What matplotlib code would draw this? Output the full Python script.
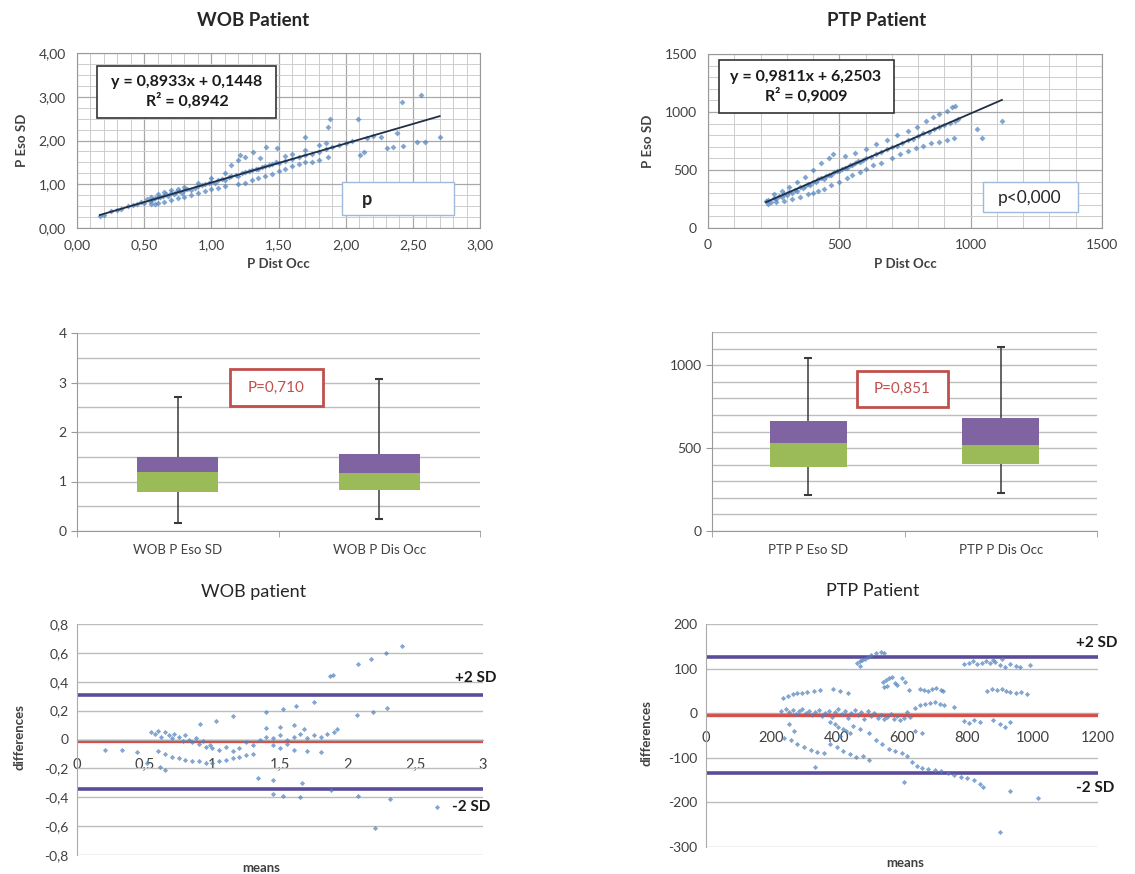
import matplotlib
matplotlib.use('Agg')
import matplotlib.pyplot as plt
from matplotlib.patches import Rectangle
from matplotlib.ticker import MultipleLocator

plt.rcParams['font.family'] = ['Lato', 'DejaVu Sans']

# ---------------- data ----------------
# WOB scatter (P Dist Occ vs P Eso SD)
wob_sc_x = [0.17, 0.20, 0.25, 0.30, 0.33, 0.38, 0.42, 0.45, 0.48, 0.50, 0.52, 0.54, 0.55, 0.56, 0.58, 0.60,
            0.62, 0.64, 0.66, 0.68, 0.70, 0.72, 0.74, 0.76, 0.78, 0.80, 0.82, 0.85, 0.88, 0.90, 0.93, 0.95,
            0.98, 1.00, 1.03, 1.05, 1.08, 1.10, 1.13, 1.15, 1.18, 1.20, 1.23, 1.25, 1.28, 1.30, 1.33, 1.35,
            1.38, 1.40, 1.43, 1.45, 1.48, 1.50, 1.55, 1.60, 1.65, 1.70, 1.75, 1.80, 1.85, 1.90, 1.95, 2.00, 2.05,
            0.55, 0.58, 0.60, 0.65, 0.70, 0.75, 0.80, 0.85, 0.90, 0.95, 1.00, 1.05, 1.10, 1.20, 1.25, 1.30,
            1.35, 1.40, 1.45, 1.50, 1.55, 1.60, 1.65, 1.70, 1.75, 1.80, 1.87,
            0.60, 0.65, 0.70, 0.75, 0.80, 0.90, 1.00, 1.10, 1.15, 1.20, 1.21, 1.25, 1.31, 1.36, 1.41, 1.49,
            1.55, 1.60, 1.70, 1.80, 1.85,
            1.70, 1.87, 1.88, 2.09, 2.11, 2.14, 2.16, 2.26, 2.31, 2.35, 2.38, 2.43, 2.42, 2.53, 2.56, 2.59,
            2.70, 2.20]
wob_sc_y = [0.28, 0.30, 0.38, 0.42, 0.44, 0.50, 0.52, 0.56, 0.60, 0.58, 0.66, 0.62, 0.70, 0.64, 0.68, 0.72,
            0.70, 0.74, 0.78, 0.74, 0.80, 0.78, 0.82, 0.84, 0.80, 0.86, 0.90, 0.88, 0.92, 0.96, 0.98, 1.00,
            1.02, 1.06, 1.04, 1.10, 1.12, 1.10, 1.16, 1.18, 1.22, 1.20, 1.26, 1.28, 1.30, 1.32, 1.36, 1.34,
            1.40, 1.42, 1.44, 1.46, 1.50, 1.48, 1.54, 1.58, 1.62, 1.66, 1.70, 1.74, 1.80, 1.86, 1.90, 1.94, 1.98,
            0.55, 0.56, 0.58, 0.60, 0.64, 0.68, 0.72, 0.76, 0.80, 0.85, 0.90, 0.92, 0.96, 1.00, 1.04, 1.10,
            1.14, 1.20, 1.24, 1.30, 1.36, 1.42, 1.46, 1.50, 1.52, 1.55, 1.62,
            0.78, 0.82, 0.86, 0.90, 0.94, 1.04, 1.14, 1.25, 1.45, 1.55, 1.67, 1.62, 1.74, 1.60, 1.85, 1.83,
            1.65, 1.70, 1.78, 1.90, 1.95,
            2.08, 2.31, 2.50, 2.50, 1.67, 1.74, 2.06, 2.08, 1.83, 1.85, 2.17, 1.87, 2.88, 1.97, 3.04, 1.97,
            2.08, 2.10]
wob_slope, wob_intercept = 0.8933, 0.1448
wob_sc_xticks = [0.0, 0.5, 1.0, 1.5, 2.0, 2.5, 3.0]
wob_sc_yticks = [0.0, 1.0, 2.0, 3.0, 4.0]

# PTP scatter
ptp_sc_x = [220, 230, 240, 250, 260, 270, 280, 290, 300, 310, 320, 330, 340, 350, 360, 370, 380, 390, 400,
            410, 420, 430, 440, 450, 460, 470, 480, 490, 500, 510, 520, 530, 540, 550, 560, 570, 580, 590,
            600, 620, 640, 660, 680, 700, 720, 740, 760, 780, 800, 820, 840, 860, 880, 900, 920, 940, 950,
            230, 260, 290, 320, 350, 380, 400, 420, 440, 470, 500, 530, 550, 580, 600, 630, 660, 700, 730,
            760, 790, 820, 850, 880, 910, 935,
            250, 280, 310, 340, 370, 400, 430, 460, 476, 520, 560, 600, 640, 680, 720, 760, 796, 830, 857,
            880, 910, 940, 930,
            1024, 1043, 1119]
ptp_sc_y = [230, 240, 225, 260, 250, 275, 270, 290, 285, 310, 300, 330, 320, 350, 345, 365, 380, 370, 400,
            395, 420, 430, 425, 450, 460, 455, 480, 495, 490, 510, 520, 515, 545, 540, 560, 575, 570, 590,
            600, 615, 640, 655, 680, 700, 710, 735, 760, 770, 790, 820, 830, 850, 870, 890, 905, 925, 940,
            210, 220, 230, 250, 270, 290, 300, 320, 340, 370, 400, 430, 460, 480, 510, 540, 560, 600, 640,
            660, 690, 710, 730, 745, 760, 775,
            290, 320, 350, 400, 440, 500, 560, 600, 638, 620, 650, 680, 720, 760, 800, 840, 871, 920, 957,
            980, 1010, 1052, 1040,
            853, 776, 922]
ptp_slope, ptp_intercept = 0.9811, 6.2503
ptp_sc_ticks = [0, 500, 1000, 1500]

# Box plots (min, q1, median, q3, max)
wob_box_labels = ['WOB P Eso SD', 'WOB P Dis Occ']
wob_box_min = [0.16, 0.24]
wob_box_q1 = [0.79, 0.83]
wob_box_med = [1.19, 1.17]
wob_box_q3 = [1.50, 1.55]
wob_box_max = [2.71, 3.07]
wob_box_yticks = [0, 1, 2, 3, 4]

ptp_box_labels = ['PTP P Eso SD', 'PTP P Dis Occ']
ptp_box_min = [217, 229]
ptp_box_q1 = [386, 404]
ptp_box_med = [530, 518]
ptp_box_q3 = [663, 681]
ptp_box_max = [1042, 1108]
ptp_box_yticks = [0, 500, 1000]

# Bland-Altman WOB
wob_ba_x = [0.55, 0.58, 0.60, 0.62, 0.65, 0.68, 0.70, 0.72, 0.75, 0.78, 0.80, 0.83, 0.85, 0.88, 0.90, 0.93,
            0.95, 0.98, 1.00, 1.05, 1.10, 1.15, 1.20,
            0.60, 0.65, 0.70, 0.75, 0.80, 0.85, 0.90, 0.95, 1.00, 1.05, 1.10, 1.15, 1.20, 1.25, 1.30,
            1.35, 1.40, 1.45, 1.50, 1.55, 1.60, 1.65, 1.70, 1.75, 1.80, 1.85, 1.90, 1.92, 1.45, 1.50, 1.55,
            1.60, 1.70, 1.80, 1.40, 1.50, 1.60, 1.68, 1.30, 1.25,
            2.40, 2.28, 2.17, 2.08, 1.89, 1.87, 1.75, 1.62, 1.52, 1.40, 1.15, 1.03, 0.91, 2.29, 2.19, 2.07,
            2.20, 2.66, 2.31, 2.08, 1.65, 1.52, 1.45, 1.34, 1.45, 1.66, 1.88,
            0.21, 0.33, 0.44, 0.52, 0.65, 0.61]
wob_ba_y = [0.05, 0.04, 0.06, 0.02, 0.05, 0.03, 0.01, 0.04, 0.02, -0.01, 0.03, 0.00, -0.02, 0.01, -0.03, -0.01,
            -0.05, -0.04, -0.06, -0.07, -0.05, -0.08, -0.06,
            -0.08, -0.10, -0.12, -0.13, -0.14, -0.15, -0.15, -0.16, -0.16, -0.15, -0.14, -0.13, -0.12, -0.11, -0.10,
            0.00, 0.02, 0.01, 0.03, 0.00, 0.02, 0.04, 0.01, 0.03, 0.02, 0.04, 0.05, 0.07, -0.04, -0.06, -0.03,
            -0.07, -0.08, -0.09, 0.08, 0.09, 0.10, 0.07, -0.04, -0.02,
            0.65, 0.60, 0.56, 0.52, 0.45, 0.44, 0.26, 0.23, 0.21, 0.19, 0.16, 0.13, 0.11, 0.22, 0.19, 0.17,
            -0.61, -0.47, -0.41, -0.39, -0.40, -0.39, -0.38, -0.27, -0.28, -0.30, -0.35,
            -0.07, -0.07, -0.09, -0.16, -0.21, -0.19]
wob_ba_mean, wob_ba_plus2sd, wob_ba_minus2sd = -0.01, 0.31, -0.34
wob_ba_xticks = [0, 0.5, 1, 1.5, 2, 2.5, 3]
wob_ba_xlabels = ['0', '0,5', '1', '1,5', '2', '2,5', '3']
wob_ba_yticks = [-0.8, -0.6, -0.4, -0.2, 0, 0.2, 0.4, 0.6, 0.8]
wob_ba_ylabels = ['-0,8', '-0,6', '-0,4', '-0,2', '0', '0,2', '0,4', '0,6', '0,8']

# Bland-Altman PTP
ptp_ba_x = [462, 470, 478, 486, 495, 505, 520, 535, 545, 470,
            790, 805, 818, 830, 845, 858, 870, 885, 900, 915, 930, 948, 960, 992, 880, 905,
            860, 875, 890, 905, 918, 932, 950, 965, 983,
            655, 668, 680, 692, 705, 718, 726, 620,
            542, 550, 560, 570, 585, 578, 545, 555, 600, 610,
            236, 250, 265, 280, 295, 310, 330, 350, 389, 410, 435,
            230, 245, 255, 265, 275, 285, 295, 305, 315, 325, 335, 345, 355, 365, 375, 385, 395, 405, 415, 425,
            435, 445, 455, 465, 475, 485, 495, 505, 515, 525, 535, 545, 555, 565, 575, 585, 595, 605, 615, 625,
            640, 655, 670, 685, 700, 715, 730, 760, 790, 805, 820, 840, 880, 900, 915, 930,
            380, 395, 405, 420, 430, 440, 450, 410, 470, 500, 520, 540, 560, 580, 600, 615, 640, 660, 255, 270,
            240, 260, 280, 300, 320, 340, 360, 380, 400, 420, 440, 460, 480, 500,
            630, 645, 660, 680, 700, 720, 740, 760, 780, 800, 820, 840, 848,
            900, 931, 1016, 606, 333]
ptp_ba_y = [112, 118, 120, 122, 126, 130, 136, 138, 135, 105,
            110, 112, 117, 110, 113, 118, 112, 114, 108, 104, 110, 106, 104, 107, 120, 122,
            50, 55, 52, 54, 50, 48, 45, 47, 44,
            55, 52, 50, 54, 56, 52, 50, 52,
            70, 75, 78, 82, 64, 68, 58, 60, 80, 70,
            35, 38, 42, 45, 46, 48, 50, 52, 55, 50, 45,
            5, 10, 2, 8, -2, 4, 10, 0, 6, -4, 2, 8, -6, 0, 4, -8, 2, 10, -2, 6,
            -10, 0, 8, -4, 2, -12, 4, -6, 0, -10, -4, -14, -8, -2, -12, -6, -16, -10, 2, -8,
            12, 18, 20, 22, 25, 20, 18, 15, -18, -22, -15, -20, -15, -25, -30, -20,
            -20, -25, -30, -35, -40, -45, -28, -50, -35, -45, -60, -70, -80, -85, -90, -95, -40, -45, -25, -40,
            -55, -60, -70, -75, -82, -88, -90, -70, -75, -85, -92, -98, -95, -105,
            -110, -118, -122, -125, -128, -130, -135, -138, -142, -145, -150, -158, -165,
            -266, -174, -190, -154, -120]
ptp_ba_mean, ptp_ba_plus2sd, ptp_ba_minus2sd = -5, 125, -133
ptp_ba_xticks = [0, 200, 400, 600, 800, 1000, 1200]
ptp_ba_yticks = [-300, -200, -100, 0, 100, 200]

# ---------------- styling ----------------
W, H = 1135, 874
fig = plt.figure(figsize=(W / 100, H / 100), dpi=100)

BLUE = '#4F81BD'
PURPLE = '#8064A2'
GREEN = '#9BBB59'
RED = '#C0504D'
GRID = '#cdcdcd'
TXT = '#404040'


def ax_px(l, t, r, b):
    return fig.add_axes([l / W, 1 - b / H, (r - l) / W, (b - t) / H])


def fig_rect(l, t, r, b, ec, lw, fc='white'):
    rect = Rectangle((l / W, 1 - b / H), (r - l) / W, (b - t) / H, transform=fig.transFigure,
                     facecolor=fc, edgecolor=ec, linewidth=lw, zorder=5)
    fig.add_artist(rect)


def fig_text(x, y, s, **kw):
    kw.setdefault('ha', 'center')
    kw.setdefault('va', 'center')
    fig.text(x / W, 1 - y / H, s, zorder=6, **kw)


def comma(v, nd):
    return f"{v:.{nd}f}".replace('.', ',')


def style_spines(ax, color='#999999'):
    for s in ax.spines.values():
        s.set_color(color)
        s.set_linewidth(0.8)


def scatter_panel(ax, x, y, slope, intercept, xticks, xlabels, yticks, ylabels, xminor, yminor):
    ax.set_xticks(xticks)
    ax.set_xticklabels(xlabels)
    ax.set_yticks(yticks)
    ax.set_yticklabels(ylabels)
    ax.set_xlim(xticks[0], xticks[-1])
    ax.set_ylim(yticks[0], yticks[-1])
    ax.xaxis.set_minor_locator(MultipleLocator(xminor))
    ax.yaxis.set_minor_locator(MultipleLocator(yminor))
    ax.grid(which='major', color='#a8a8a8', lw=0.9)
    ax.grid(which='minor', color=GRID, lw=0.7)
    ax.set_axisbelow(True)
    ax.tick_params(which='both', length=0, labelsize=10, labelcolor=TXT, pad=8)
    style_spines(ax)
    ax.scatter(x, y, s=9, c=BLUE, marker='D', linewidths=0, alpha=0.7, zorder=3)
    tx = [min(x), max(x)]
    ax.plot(tx, [slope * v + intercept for v in tx], color='#1f2f45', lw=1.3, zorder=4)
    ax.set_xlabel('P Dist Occ', fontsize=9.5, fontweight='bold', color=TXT, labelpad=5)
    ax.set_ylabel('P Eso SD', fontsize=9.5, fontweight='bold', color=TXT, labelpad=8)


# ---- Panel 1: WOB scatter ----
ax1 = ax_px(77, 53, 480, 228)
scatter_panel(ax1, wob_sc_x, wob_sc_y, wob_slope, wob_intercept,
              wob_sc_xticks, [comma(v, 2) for v in wob_sc_xticks],
              wob_sc_yticks, [comma(v, 2) for v in wob_sc_yticks], 0.1, 0.25)
fig_text(253, 20, 'WOB Patient', fontsize=13.5, fontweight='bold', color='#262626')
fig_rect(97, 66, 276, 118, '#333333', 1.2)
fig_text(187, 92, f'y = {comma(wob_slope, 4)}x + {comma(wob_intercept, 4)}\nR² = 0,8942',
         fontsize=11.5, fontweight='bold', color='#1a1a1a', linespacing=1.25)
fig_rect(342, 182, 454, 215, '#9DB9DC', 1.0)
fig_text(367, 200, 'p', fontsize=13, fontweight='bold', color='#262626')

# ---- Panel 2: PTP scatter ----
ax2 = ax_px(708, 54, 1102, 228)
scatter_panel(ax2, ptp_sc_x, ptp_sc_y, ptp_slope, ptp_intercept,
              ptp_sc_ticks, [str(v) for v in ptp_sc_ticks],
              ptp_sc_ticks, [str(v) for v in ptp_sc_ticks], 100, 100)
fig_text(877, 20, 'PTP Patient', fontsize=13.5, fontweight='bold', color='#262626')
fig_rect(719, 60, 894, 113, '#333333', 1.2)
fig_text(806, 87, f'y = {comma(ptp_slope, 4)}x + {comma(ptp_intercept, 4)}\nR² = 0,9009',
         fontsize=11.5, fontweight='bold', color='#1a1a1a', linespacing=1.25)
fig_rect(983, 182, 1078, 212, '#9DB9DC', 1.0)
fig_text(1030, 198, 'p<0,000', fontsize=12.5, color='#262626')


# ---- Box panels ----
def box_panel(ax, labels, mn, q1, med, q3, mx, yticks, ymax, ystep):
    pos = [0.5, 1.5]
    ax.set_yticks(yticks)
    ax.set_xlim(0, 2)
    ax.set_ylim(0, ymax)
    ax.yaxis.set_minor_locator(MultipleLocator(ystep))
    ax.grid(axis='y', which='both', color='#bdbdbd', lw=1.0)
    ax.set_axisbelow(True)
    for s in ['top', 'right']:
        ax.spines[s].set_visible(False)
    for s in ['left', 'bottom']:
        ax.spines[s].set_color('#999999')
    ax.set_xticks(pos)
    ax.set_xticklabels(labels)
    ax.set_xticks([0, 1, 2], minor=True)
    ax.tick_params(axis='x', which='major', length=0, labelsize=9.5, labelcolor=TXT, pad=9)
    ax.tick_params(axis='x', which='minor', length=4, color='#999999')
    ax.tick_params(axis='y', which='major', length=4, color='#999999', labelsize=10, labelcolor=TXT)
    ax.tick_params(axis='y', which='minor', length=0)
    ax.vlines(pos, mn, mx, color='#3a3a3a', lw=1.1, zorder=2)
    ax.hlines(mn, [p - 0.02 for p in pos], [p + 0.02 for p in pos], color='#3a3a3a', lw=1.5, zorder=2)
    ax.hlines(mx, [p - 0.02 for p in pos], [p + 0.02 for p in pos], color='#3a3a3a', lw=1.5, zorder=2)
    ax.bar(pos, [m - a for m, a in zip(med, q1)], bottom=q1, width=0.4, color=GREEN, zorder=3)
    ax.bar(pos, [b - m for b, m in zip(q3, med)], bottom=med, width=0.4, color=PURPLE, zorder=3)


ax3 = ax_px(77, 333, 480, 531)
box_panel(ax3, wob_box_labels, wob_box_min, wob_box_q1, wob_box_med, wob_box_q3, wob_box_max,
          wob_box_yticks, 4, 0.5)
fig_rect(230, 369, 323, 406, RED, 2.0)
fig_text(276, 388, 'P=0,710', fontsize=11, color=RED)

ax4 = ax_px(712, 332, 1097, 531)
box_panel(ax4, ptp_box_labels, ptp_box_min, ptp_box_q1, ptp_box_med, ptp_box_q3, ptp_box_max,
          ptp_box_yticks, 1200, 100)
fig_rect(857, 371, 948, 407, RED, 2.0)
fig_text(902, 389, 'P=0,851', fontsize=11, color=RED)


# ---- Bland-Altman panels ----
def ba_panel(ax, x, y, mean, p2, m2, xticks, xlabels, yticks, ylabels):
    ax.set_xticks(xticks)
    ax.set_xticklabels(xlabels)
    ax.set_yticks(yticks)
    ax.set_yticklabels(ylabels)
    ax.set_xlim(xticks[0], xticks[-1])
    ax.set_ylim(yticks[0], yticks[-1])
    ax.grid(axis='y', color='#bdbdbd', lw=1.0)
    ax.set_axisbelow(True)
    for s in ['top', 'right']:
        ax.spines[s].set_visible(False)
    ax.spines['left'].set_color('#aaaaaa')
    ax.spines['bottom'].set_position(('data', 0))
    ax.spines['bottom'].set_color('#aaaaaa')
    ax.tick_params(axis='x', length=0, labelsize=10.5, labelcolor=TXT, pad=13)
    ax.tick_params(axis='y', length=0, labelsize=10, labelcolor=TXT, pad=6)
    ax.axhline(p2, color='#5b4b9a', lw=2.6, zorder=2)
    ax.axhline(m2, color='#5b4b9a', lw=2.6, zorder=2)
    ax.axhline(mean, color='#d64f4a', lw=2.4, zorder=2)
    ax.scatter(x, y, s=7, c=BLUE, marker='D', linewidths=0, alpha=0.7, zorder=3)


ax5 = ax_px(77, 624, 483, 855)
ba_panel(ax5, wob_ba_x, wob_ba_y, wob_ba_mean, wob_ba_plus2sd, wob_ba_minus2sd,
         wob_ba_xticks, wob_ba_xlabels, wob_ba_yticks, wob_ba_ylabels)
fig_text(254, 592, 'WOB patient', fontsize=13, color='#262626')
fig_text(261, 868, 'means', fontsize=9.5, fontweight='bold', color=TXT)
fig_text(20, 737, 'differences', fontsize=9.5, fontweight='bold', color=TXT, rotation=90)
fig_text(476, 678, '+2 SD', fontsize=11, fontweight='bold', color='#1a1a1a')
fig_text(471, 807, '-2 SD', fontsize=11, fontweight='bold', color='#1a1a1a')

ax6 = ax_px(706, 624, 1098, 847)
ba_panel(ax6, ptp_ba_x, ptp_ba_y, ptp_ba_mean, ptp_ba_plus2sd, ptp_ba_minus2sd,
         ptp_ba_xticks, [str(v) for v in ptp_ba_xticks], ptp_ba_yticks, [str(v) for v in ptp_ba_yticks])
fig_text(873, 591, 'PTP Patient', fontsize=13, color='#262626')
fig_text(905, 863, 'means', fontsize=9.5, fontweight='bold', color=TXT)
fig_text(647, 733, 'differences', fontsize=9.5, fontweight='bold', color=TXT, rotation=90)
fig_text(1097, 643, '+2 SD', fontsize=11, fontweight='bold', color='#1a1a1a')
fig_text(1095, 788, '-2 SD', fontsize=11, fontweight='bold', color='#1a1a1a')

fig.savefig('out.png', dpi=100)
